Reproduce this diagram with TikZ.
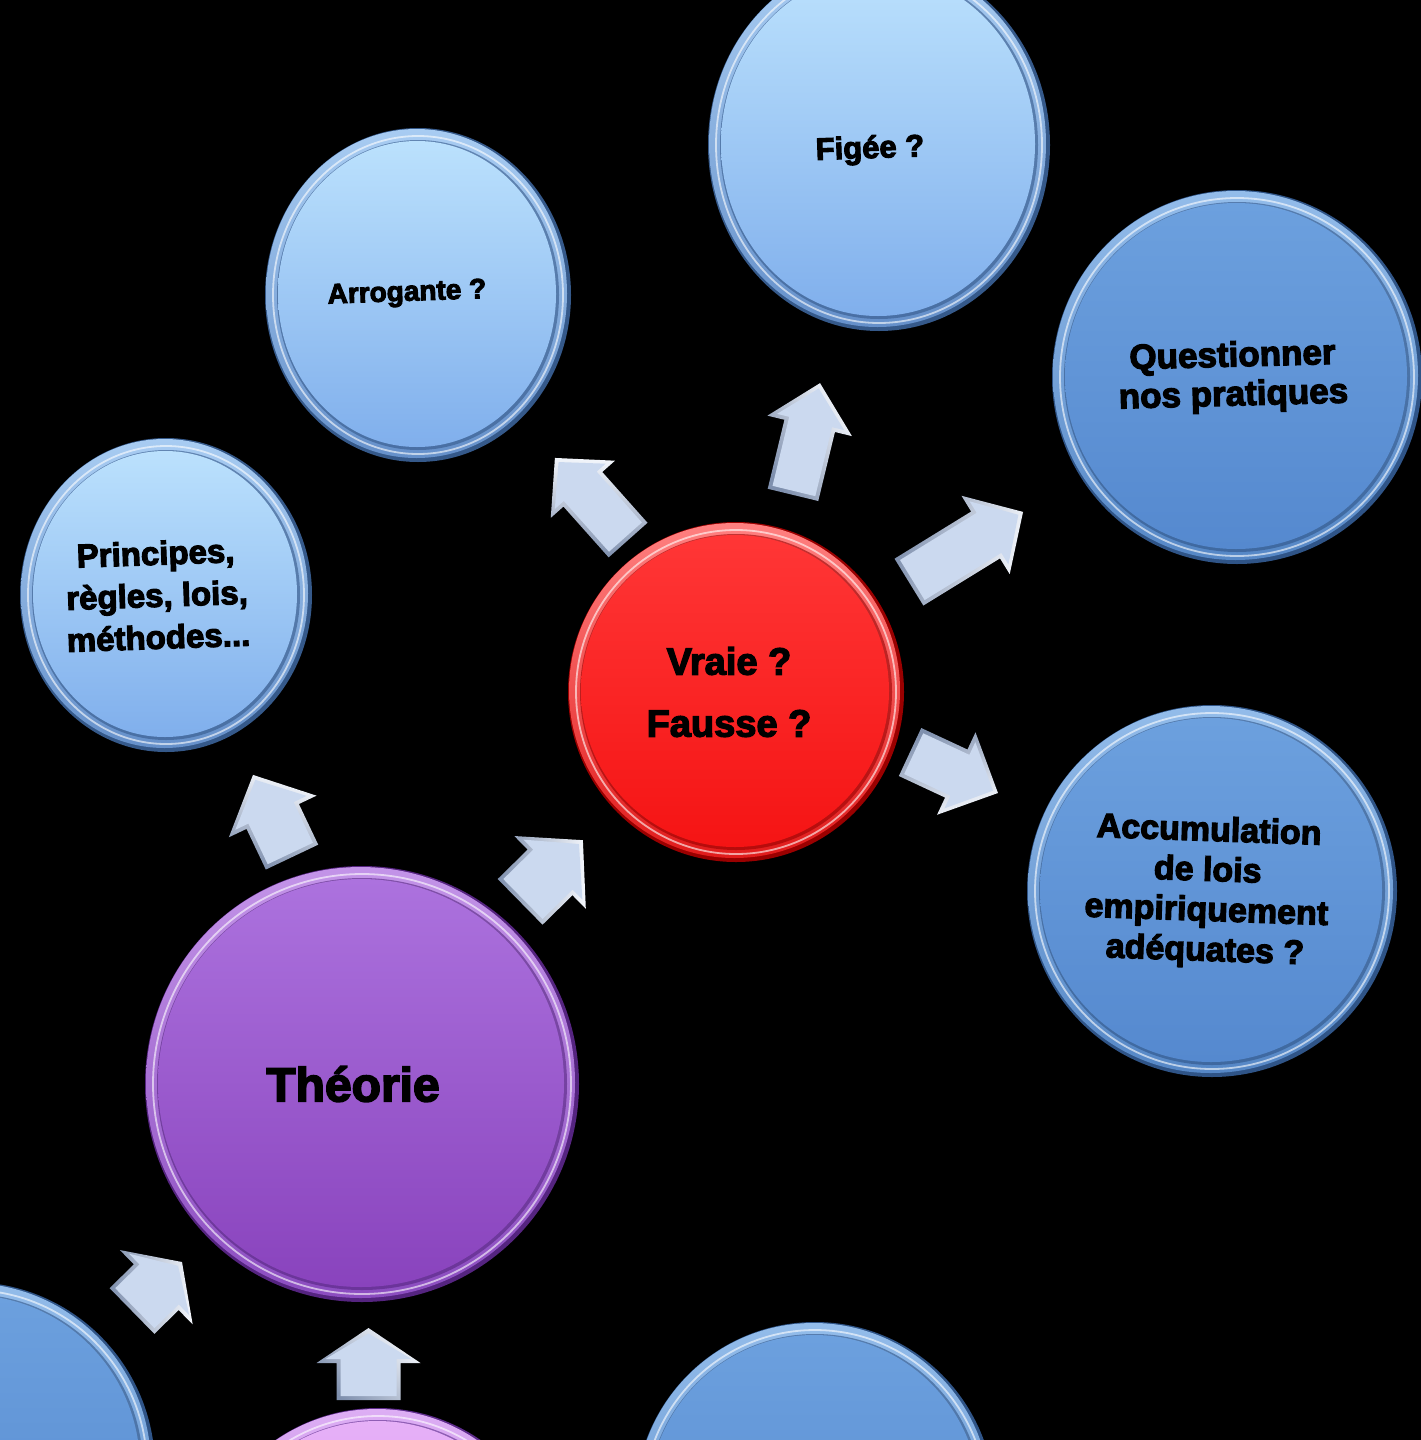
\documentclass[tikz,border=0pt]{standalone}
\usepackage{fontspec}
\usetikzlibrary{shapes.geometric}
\newfontfamily\heavy[FakeBold=3.5]{Liberation Sans Bold}

% colour palettes: rim, rim highlight, rim shadow, fill top, fill bottom
\definecolor{lbrim}{HTML}{6590CA}\definecolor{lbrimlight}{HTML}{A8CCF2}\definecolor{lbrimdark}{HTML}{35598A}
\definecolor{lbtop}{HTML}{BBE1FD}\definecolor{lbbot}{HTML}{80AFEC}
\definecolor{mbrim}{HTML}{5587C6}\definecolor{mbrimlight}{HTML}{93BCEA}\definecolor{mbrimdark}{HTML}{2F5487}
\definecolor{mbtop}{HTML}{6CA0DE}\definecolor{mbbot}{HTML}{5589CF}
\definecolor{rdrim}{HTML}{E11B1B}\definecolor{rdrimlight}{HTML}{FF8080}\definecolor{rdrimdark}{HTML}{9A0000}
\definecolor{rdtop}{HTML}{FF3636}\definecolor{rdbot}{HTML}{F51414}
\definecolor{pprim}{HTML}{8B4CC0}\definecolor{pprimlight}{HTML}{C394E8}\definecolor{pprimdark}{HTML}{552480}
\definecolor{pptop}{HTML}{AC72DE}\definecolor{ppbot}{HTML}{8943BD}
\definecolor{pkrim}{HTML}{9B59CC}\definecolor{pkrimlight}{HTML}{DDAEF4}\definecolor{pkrimdark}{HTML}{5E2C8C}
\definecolor{pktop}{HTML}{E6B0F7}\definecolor{pkbot}{HTML}{D28EF0}
\definecolor{arrowfill}{HTML}{CBD9EF}
\definecolor{bevlight}{HTML}{F4F7FC}
\definecolor{bevdark}{HTML}{7F90AE}

% glossy disc: name, x, y, rx, ry, palette
\newcommand\bubble[6]{%
  \fill[#6rimdark] (#2,#3) ellipse ({#4} and {#5});
  \shade[top color=#6rimlight, bottom color=#6rim] (#2-1.5,#3-1.5) ellipse ({#4-2.5} and {#5-2.5});
  \draw[white, opacity=.6, line width=1.8] (#2,#3) ellipse ({#4-8} and {#5-8});
  \fill[#6rimdark, opacity=.6] (#2,#3) ellipse ({#4-12} and {#5-12});
  \shade[top color=#6top, bottom color=#6bot] (#2-1,#3-1) ellipse ({#4-14} and {#5-14});
  \node[ellipse, minimum width=2*#4, minimum height=2*#5, inner sep=0] (#1) at (#2,#3) {};
}

% bevelled block arrow: x, y (centre), angle, length, head width, shaft width, head length
\newcommand\blockarrow[7]{%
  \begin{scope}[shift={(#1,#2)}, rotate=#3]
    \pgfmathsetmacro\hl{#4/2}\pgfmathsetmacro\hw{#5/2}\pgfmathsetmacro\sw{#6/2}
    \shade[left color=bevdark, right color=bevlight, shading angle=#3+45]
      (-\hl,-\sw) -- (\hl-#7,-\sw) -- (\hl-#7,-\hw) -- (\hl,0) -- (\hl-#7,\hw) -- (\hl-#7,\sw) -- (-\hl,\sw) -- cycle;
    \fill[arrowfill]
      (-\hl+4,-\sw+4) -- (\hl-#7+4,-\sw+4) -- (\hl-#7+4,-\hw+9) -- (\hl-5.5,0) -- (\hl-#7+4,\hw-9) -- (\hl-#7+4,\sw-4) -- (-\hl+4,\sw-4) -- cycle;
  \end{scope}}

\tikzset{
  label text/.style={font=\heavy, text=black, align=center, inner sep=0},
}

\begin{document}
\begin{tikzpicture}[x=1pt, y=-1pt]
  \useasboundingbox (0,0) rectangle (1421,1440);
  \fill[black] (0,0) rectangle (1421,1440);
  \clip (0,0) rectangle (1421,1440);

  % discs
  \bubble{figee}{879}{145}{171}{186}{lb}
  \bubble{arrogante}{418}{295}{153}{167}{lb}
  \bubble{principes}{166}{595}{146}{157}{lb}
  \bubble{questionner}{1237}{377}{185}{187}{mb}
  \bubble{vraie}{736}{692}{168}{170}{rd}
  \bubble{accumulation}{1212}{891}{185}{186}{mb}
  \bubble{theorie}{362}{1084}{217}{218}{pp}
  \bubble{basgauche}{-30}{1468}{185}{186}{mb}
  \bubble{basmilieu}{378}{1592}{182}{184}{pk}
  \bubble{basdroite}{815}{1503}{180}{181}{mb}

  % labels
  \node[label text, font=\heavy\fontsize{31}{36}\selectfont, rotate=2] (t-figee) at ([shift={(-9,5)}]figee.center) {Figée ?};
  \node[label text, font=\heavy\fontsize{28}{33}\selectfont, rotate=2] (t-arrogante) at ([shift={(-11,-1)}]arrogante.center) {Arrogante ?};
  \node[label text, font=\heavy\fontsize{33}{42}\selectfont, rotate=2] (t-principes) at ([shift={(-9,0)}]principes.center) {Principes,\\règles, lois,\\méthodes...};
  \node[label text, font=\heavy\fontsize{35}{39}\selectfont, rotate=1.5] (t-questionner) at ([shift={(-4,0)}]questionner.center) {Questionner\\nos pratiques};
  \node[label text, font=\heavy\fontsize{38}{62}\selectfont] (t-vraie) at ([shift={(-7,0)}]vraie.center) {Vraie ?\\Fausse ?};
  \node[label text, font=\heavy\fontsize{34}{40}\selectfont, rotate=-2] (t-accumulation) at ([shift={(-5,1)}]accumulation.center) {Accumulation\\de lois\\empiriquement\\adéquates ?};
  \node[label text, font=\heavy\fontsize{48}{54}\selectfont] (t-theorie) at ([shift={(-9,0)}]theorie.center) {Théorie};

  % arrows between the discs
  \blockarrow{272.5}{816}{115.4}{91}{97}{58}{46}
  \blockarrow{551.5}{871}{44.5}{88}{102}{64}{46}
  \blockarrow{591.5}{499}{131.7}{110}{86}{52}{42}
  \blockarrow{806.5}{439}{76.4}{115}{87}{52}{44}
  \blockarrow{966}{547}{31.6}{134}{92}{55}{44}
  \blockarrow{954}{772.5}{-25}{97}{91}{53}{46}
  \blockarrow{157}{1286.5}{44.4}{70}{104}{64}{36}
  \blockarrow{368.5}{1364}{90}{72}{104}{64}{35}
\end{tikzpicture}
\end{document}
